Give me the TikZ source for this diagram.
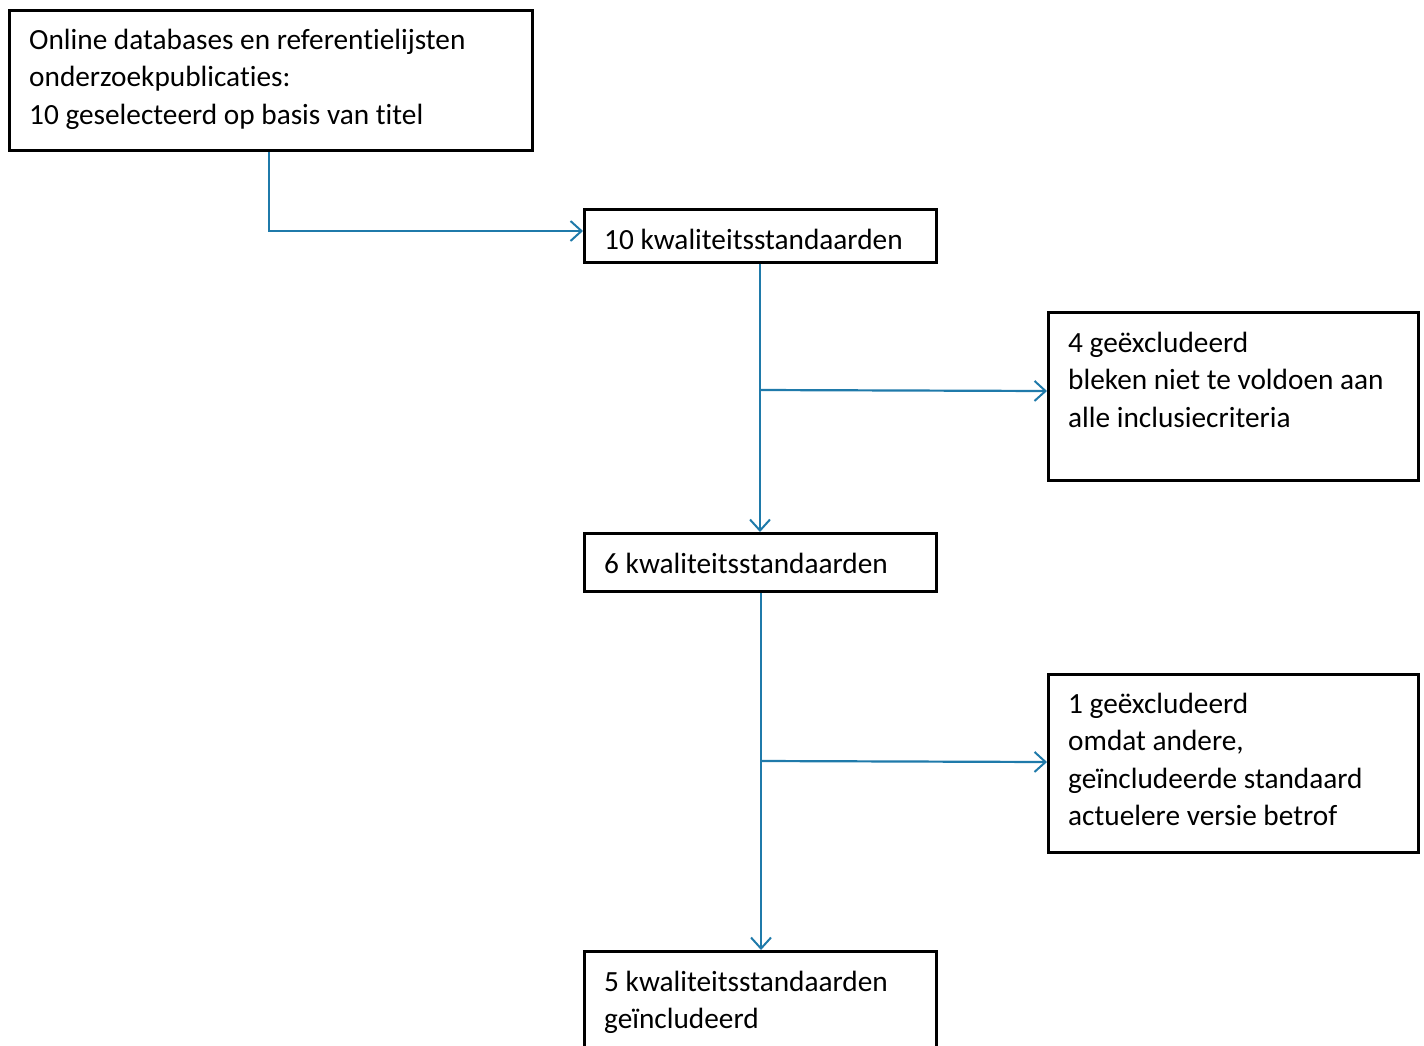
\documentclass[tikz,border=0pt]{standalone}
\usepackage{fontspec}
\setmainfont{Carlito}[Ligatures=NoCommon]
\usetikzlibrary{arrows.meta}
\definecolor{flow}{RGB}{31,122,170}
\tikzset{
  box/.style={draw=black, line width=2.8pt, anchor=north west, inner sep=0pt},
  txt/.style={anchor=base west, inner sep=0pt, align=left, font=\fontsize{29.3}{37.5}\selectfont},
  conn/.style={draw=flow, line width=2.2pt, -{Straight Barb[length=11pt,width=20pt,line width=2pt]}}
}
\begin{document}
\begin{tikzpicture}[x=1pt,y=-1pt]
\useasboundingbox (0,0) rectangle (1424,1045);
\node[box, minimum width=523, minimum height=140] (b1) at (8,9) {};
\node[box, minimum width=352, minimum height=53] (b2) at (583,208) {};
\node[box, minimum width=370, minimum height=168] (b3) at (1047,311) {};
\node[box, minimum width=352, minimum height=58] (b4) at (583,532) {};
\node[box, minimum width=370, minimum height=178] (b5) at (1047,673) {};
\node[box, minimum width=352, minimum height=120] (b6) at (583,950) {};

% base anchor of a multi-line node is the baseline of its last line
\node[txt] (t1) at (29,124) {Online databases en referentielijsten\\onderzoekpublicaties:\\10 geselecteerd op basis van titel};
\node[txt] (t2) at (604,249) {10 kwaliteitsstandaarden};
\node[txt] (t3) at (1068,427) {4 geëxcludeerd\\bleken niet te voldoen aan\\alle inclusiecriteria};
\node[txt] (t4) at (604,573) {6 kwaliteitsstandaarden};
\node[txt] (t5) at (1068,825.5) {1 geëxcludeerd\\omdat andere,\\geïncludeerde standaard\\actuelere versie betrof};
\node[txt] (t6) at (604,1028.5) {5 kwaliteitsstandaarden\\geïncludeerd};

\coordinate (c1) at (269,231);
\coordinate (j1) at (760,390);
\coordinate (j2) at (761,761);

\draw[conn] (b1.south west -| c1) -- (c1) -- (b2.west |- c1);
\draw[conn] (b2.south west -| j1) -- (b4.north west -| j1);
\draw[conn] (j1) -- (b3.west |- 0,391);
\draw[conn] (b4.south west -| j2) -- (b6.north west -| j2);
\draw[conn] (j2) -- (b5.west |- 0,762);
\end{tikzpicture}
\end{document}
